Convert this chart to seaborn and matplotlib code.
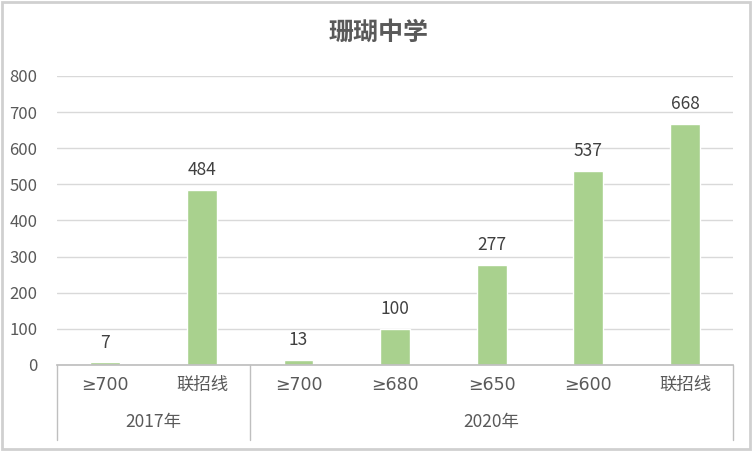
import matplotlib
matplotlib.use("Agg")
import matplotlib.pyplot as plt
import seaborn as sns
import pandas as pd
from matplotlib.patches import Rectangle

# 데이터
categories = ["≥700", "联招线", "≥700 ", "≥680", "≥650", "≥600", "联招线 "]
tick_labels = ["≥700", "联招线", "≥700", "≥680", "≥650", "≥600", "联招线"]
values = [7, 484, 13, 100, 277, 537, 668]
years = ["2017年", "2020年"]
year_sizes = [2, 5]

sns.set_theme(style="white")
plt.rcParams["font.family"] = ["Noto Sans CJK SC", "DejaVu Sans"]

df = pd.DataFrame({"cat": categories, "val": values})

fig = plt.figure(figsize=(7.52, 4.51), dpi=100)
ax = fig.add_axes([0.0758, 0.1907, 0.975 - 0.0758, 0.8315 - 0.1907])

sns.barplot(data=df, x="cat", y="val", order=categories, color="#a9d18e",
            saturation=1, width=0.31, ax=ax)

ax.set_xlim(-0.5, len(categories) - 0.5)
ax.set_ylim(0, 800)
ax.set_yticks(range(0, 801, 100))
ax.yaxis.grid(True, color="#d9d9d9", linewidth=1)
ax.set_axisbelow(True)
for s in ["left", "right", "top"]:
    ax.spines[s].set_visible(False)
ax.spines["bottom"].set_color("#bfbfbf")
ax.set_xlabel("")
ax.set_ylabel("")
ax.tick_params(axis="y", length=0, labelsize=12, colors="#595959", pad=14)
ax.tick_params(axis="x", length=0, labelsize=12.5, colors="#595959", pad=8)
ax.set_xticks(range(len(categories)))
ax.set_xticklabels(tick_labels, family=["DejaVu Sans", "Noto Sans CJK SC"])

# 값 라벨
for i, v in enumerate(values):
    ax.text(i, v + 30, str(v), ha="center", va="bottom", fontsize=12.5, color="#404040")

# 연도 라벨 / 구분선
trans = ax.get_xaxis_transform()
start = -0.5
ax.plot([start, start], [0, -0.26], color="#bfbfbf", lw=1, transform=trans, clip_on=False)
for y, n in zip(years, year_sizes):
    end = start + n
    ax.plot([end, end], [0, -0.26], color="#bfbfbf", lw=1, transform=trans, clip_on=False)
    ax.text((start + end) / 2, -0.197, y, ha="center", va="center", fontsize=12.5,
            color="#595959", transform=trans)
    start = end

fig.text(0.503, 0.927, "珊瑚中学", ha="center", va="center", fontsize=18,
         fontweight="bold", color="#595959")

fig.patches.append(Rectangle((0.003, 0.005), 0.994, 0.99, transform=fig.transFigure,
                             fill=False, edgecolor="#d0d0d0", lw=2))

fig.savefig("out.png", dpi=100)
